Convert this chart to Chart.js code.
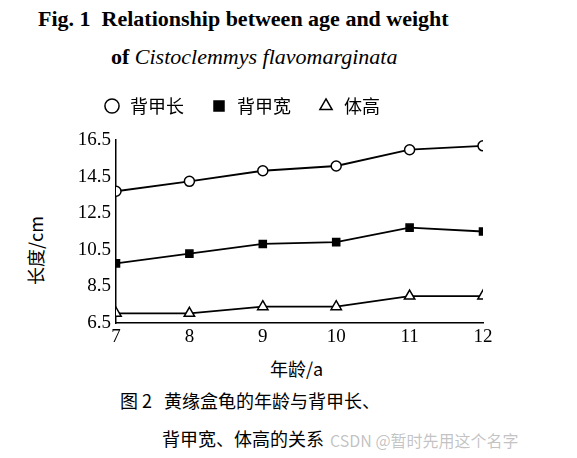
<!DOCTYPE html>
<html><head><meta charset="utf-8">
<script src="https://cdn.jsdelivr.net/npm/chart.js@4/dist/chart.umd.min.js"></script>
<style>
body{margin:0;width:577px;height:458px;background:#fff;position:relative;overflow:hidden;font-family:"Liberation Serif","Noto Sans CJK SC",serif;color:#000}
.t{position:absolute;white-space:nowrap}
#wrap{position:absolute;left:0;top:71px;width:577px;height:282px}
</style></head><body>
<div class="t" style="left:38px;top:6px;font-size:22px;font-weight:bold">Fig. 1&nbsp; Relationship between age and weight</div>
<div class="t" style="left:111px;top:44px;font-size:22px;font-weight:bold">of <i style="font-weight:normal">Cistoclemmys flavomarginata</i></div>
<div class="t" style="left:22px;font-size:18px;transform:rotate(-90deg);transform-origin:left top;top:285px;font-family:'Noto Sans CJK SC','Liberation Serif'">长度/cm</div>
<div class="t" style="left:270px;top:355px;font-size:18px;font-family:'Noto Sans CJK SC','Liberation Serif'">年龄/a</div>
<div class="t" style="left:120px;top:387px;font-size:18px;font-family:'Noto Sans CJK SC'">图 2&nbsp;&nbsp;&nbsp;黄缘盒龟的年龄与背甲长、</div>
<div class="t" style="left:162px;top:425px;font-size:18px;font-family:'Noto Sans CJK SC'">背甲宽、体高的关系</div>
<div class="t" style="left:330px;top:428px;font-size:16px;color:rgba(120,120,120,0.45);font-family:'Noto Sans CJK SC'">CSDN @暂时先用这个名字</div>
<div id="wrap"><canvas id="c"></canvas></div>
<script>
const ages=[7,8,9,10,11,12];
const yTicks=[6.5,8.5,10.5,12.5,14.5,16.5];
const lenVals=[13.7,14.24,14.82,15.08,15.97,16.18];
const widVals=[9.76,10.29,10.82,10.92,11.71,11.5];
const htVals=[7.03,7.03,7.39,7.39,7.97,7.97];
const names=["背甲长","背甲宽","体高"];
const ds=(label,data,style,fill)=>({label,data:data.map((v,i)=>({x:ages[i],y:v})),borderColor:'#000',borderWidth:1.8,
 pointStyle:style,pointRadius:style==='triangle'?6:5,pointBackgroundColor:fill,pointBorderColor:'#000',pointBorderWidth:1.5,tension:0});
const legendGap={id:'legendGap',beforeInit(chart){const f=chart.legend.fit;chart.legend.fit=function(){f.bind(this)();this.height+=15;};}};
new Chart(document.getElementById('c'),{type:'line',plugins:[legendGap],
data:{datasets:[ds(names[0],lenVals,'circle','#fff'),ds(names[1],widVals,'rect','#000'),ds(names[2],htVals,'triangle','#fff')]},
options:{responsive:true,maintainAspectRatio:false,animation:false,
layout:{padding:{left:0,right:94,top:0,bottom:0}},
plugins:{tooltip:{enabled:false},legend:{position:'top',align:'center',
 labels:{usePointStyle:true,color:'#000',boxHeight:10,padding:26,font:{size:18,family:"'Noto Sans CJK SC'"}}}},
scales:{
x:{type:'linear',min:7,max:12,afterBuildTicks:s=>{s.ticks=ages.map(v=>({value:v}))},
 grid:{display:false,drawTicks:true,tickLength:-5},border:{color:'#000',width:1.5},
 ticks:{color:'#000',font:{size:19,family:"'Liberation Serif'"},padding:8},afterFit:s=>{s.height=30}},
y:{min:6.5,max:16.5,afterBuildTicks:s=>{s.ticks=yTicks.map(v=>({value:v}))},
 grid:{display:false,drawTicks:true,tickLength:-5},border:{color:'#000',width:1.5},
 ticks:{color:'#000',font:{size:19,family:"'Liberation Serif'"},padding:10,callback:v=>v.toFixed(1)},afterFit:s=>{s.width=116}}
}}});
</script></body></html>
